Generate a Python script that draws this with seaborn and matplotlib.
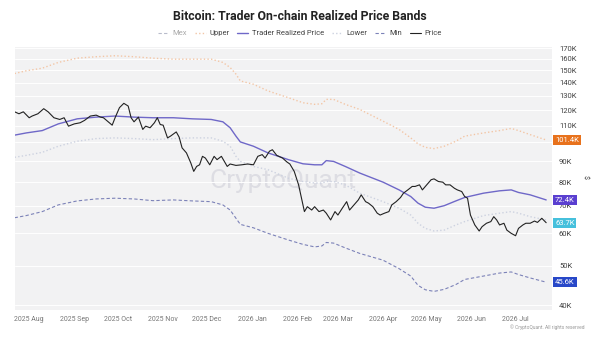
import pandas as pd
import matplotlib.pyplot as plt
import matplotlib.lines as mlines
import matplotlib.ticker as mticker
import seaborn as sns

# Band dates (Trader realized price and its bands share these)
band_dates = pd.to_datetime([
    '2025-07-22', '2025-07-30', '2025-08-10', '2025-08-21', '2025-09-03',
    '2025-09-16', '2025-09-29', '2025-10-12', '2025-10-25', '2025-11-08',
    '2025-11-21', '2025-12-04', '2025-12-12', '2025-12-17', '2025-12-21',
    '2025-12-24', '2026-01-02', '2026-01-12', '2026-01-26', '2026-02-05',
    '2026-02-13', '2026-02-18', '2026-02-21', '2026-02-26', '2026-03-06',
    '2026-03-16', '2026-04-01', '2026-04-12', '2026-04-20', '2026-04-25',
    '2026-04-30', '2026-05-06', '2026-05-13', '2026-05-21', '2026-05-27',
    '2026-06-09', '2026-06-20', '2026-06-28', '2026-07-03', '2026-07-11',
    '2026-07-22'])

# values in thousands of USD
trp_k = [104.2, 105.5, 106.9, 111.0, 114.2, 115.3, 116.0, 115.3, 114.9, 114.9,
         114.2, 113.8, 112.3, 108.6, 103.6, 100.3, 97.9, 94.3, 90.8, 88.7,
         88.2, 88.2, 90.3, 89.9, 87.4, 84.2, 80.0, 76.6, 73.8, 71.1,
         69.5, 69.1, 70.1, 72.0, 73.4, 75.2, 76.2, 76.6, 75.5, 74.5, 72.4]
upper_k = [147.3, 149.6, 151.8, 156.8, 160.6, 161.9, 162.8, 161.9, 160.6, 159.7,
           159.7, 159.7, 156.8, 152.4, 146.8, 141.3, 138.7, 133.6, 128.6, 125.0,
           123.9, 124.3, 127.4, 127.4, 123.9, 120.4, 112.7, 107.6, 102.6, 99.2,
           97.3, 96.6, 97.9, 100.7, 103.6, 105.5, 106.9, 108.2, 106.9, 104.5, 101.4]
lower_k = [92.0, 93.0, 94.6, 97.9, 100.7, 102.2, 102.6, 102.2, 101.6, 102.2,
           102.6, 102.6, 100.7, 97.9, 92.5, 89.9, 87.4, 85.8, 81.8, 80.3,
           79.6, 79.6, 80.3, 80.3, 78.8, 75.2, 71.7, 69.1, 66.5, 63.5,
           61.7, 60.8, 61.1, 62.9, 64.1, 66.3, 67.2, 67.8, 67.2, 65.9, 64.7]
min_k = [65.5, 66.3, 67.8, 70.4, 72.0, 72.8, 73.1, 72.8, 72.1, 72.4,
         72.0, 71.7, 70.4, 68.4, 65.3, 63.1, 61.9, 60.0, 57.8, 56.4,
         55.6, 55.9, 57.0, 56.8, 55.3, 53.6, 51.6, 49.2, 47.2, 44.8,
         43.7, 43.3, 43.8, 45.0, 46.3, 47.2, 48.0, 48.3, 47.6, 46.7, 45.6]

# Price: days since 2025-07-22 and value (K USD)
price_start = '2025-07-22'
price_days = [0, 3, 6, 10, 12, 16, 20, 23, 27, 31,
              34, 37, 41, 45, 48, 52, 56, 59, 61, 65,
              67, 69, 72, 75, 78, 80, 82, 85, 88, 90,
              93, 96, 98, 100, 102, 105, 107, 111, 113, 115,
              118, 121, 123, 125, 127, 129, 131, 134, 137, 139,
              142, 146, 148, 152, 156, 160, 164, 167, 170, 172,
              175, 177, 180, 184, 187, 189, 192, 195, 197, 199,
              201, 204, 206, 209, 212, 214, 217, 220, 222, 225,
              228, 230, 233, 236, 238, 241, 243, 246, 249, 251,
              254, 257, 259, 262, 265, 267, 270, 273, 275, 278,
              280, 283, 286, 288, 291, 294, 296, 299, 302, 304,
              307, 309, 311, 313, 316, 319, 321, 324, 327, 329,
              331, 333, 336, 338, 341, 344, 346, 349, 351, 354,
              357, 359, 362, 365]
price_k = [118.8, 117.5, 118.8, 114.9, 116.0, 117.5, 120.9, 118.8, 114.9, 113.8,
           114.9, 109.6, 111.0, 111.7, 113.2, 116.0, 116.6, 115.3, 114.9, 111.7,
           110.2, 114.9, 121.6, 124.6, 122.7, 114.9, 112.3, 115.3, 107.6, 109.6,
           108.6, 111.7, 114.9, 110.6, 110.2, 102.6, 103.6, 106.1, 103.0, 97.0,
           94.3, 89.1, 85.0, 87.4, 88.2, 92.5, 91.6, 88.2, 92.5, 90.8,
           92.5, 87.4, 88.6, 87.9, 88.2, 88.6, 88.2, 92.5, 93.4, 91.6,
           95.2, 96.0, 93.0, 91.6, 89.6, 88.6, 85.0, 78.8, 73.1, 67.8,
           69.7, 68.4, 69.7, 67.8, 68.4, 67.2, 64.7, 67.8, 66.5, 69.1,
           71.7, 68.4, 70.4, 72.4, 74.5, 71.7, 71.1, 69.7, 67.2, 66.5,
           67.2, 67.8, 70.4, 71.7, 73.4, 75.2, 76.6, 78.1, 78.1, 78.8,
           76.6, 78.8, 81.1, 81.5, 80.3, 80.0, 78.8, 78.8, 77.3, 76.6,
           75.9, 73.8, 73.1, 66.5, 62.9, 60.8, 62.3, 63.5, 64.1, 65.9,
           64.7, 62.9, 63.5, 61.1, 60.0, 59.2, 61.7, 62.9, 63.5, 63.5,
           64.3, 63.8, 65.3, 63.7]

y_ticks_k = [40, 50, 60, 70, 80, 90, 100, 110, 120, 130, 140, 150, 160, 170]
hidden_ticks_k = [100]  # sits under the 101.4K tag
month_ticks = pd.date_range('2025-08-01', '2026-07-01', freq='MS')

sns.set_style('white')
plt.rcParams['font.family'] = ['Roboto', 'DejaVu Sans']

price_dates = pd.Timestamp(price_start) + pd.to_timedelta(price_days, unit='D')
price = pd.DataFrame({'date': price_dates, 'value': [v * 1000 for v in price_k]})
bands = pd.DataFrame({'date': band_dates,
                      'trp': [v * 1000 for v in trp_k],
                      'upper': [v * 1000 for v in upper_k],
                      'lower': [v * 1000 for v in lower_k],
                      'min': [v * 1000 for v in min_k]})

c_upper = '#f2c6a6'
c_trp = '#6f68c8'
c_lower = '#cdd2e0'
c_min = '#7c82b8'
c_price = '#222222'

fig = plt.figure(figsize=(6, 3.37), dpi=100)
ax = fig.add_axes([14.6 / 600, 1 - 310 / 337, (552 - 14.6) / 600, (310 - 47) / 337])
ax.set_facecolor('#f2f2f3')

ax.text(0.5, 0.49, 'CryptoQuant', transform=ax.transAxes, ha='center', va='center',
        fontsize=19, color='#dddde3', zorder=0.5)

sns.lineplot(data=bands, x='date', y='upper', ax=ax, color=c_upper, lw=1.0,
             linestyle=(0, (1, 1.6)))
sns.lineplot(data=bands, x='date', y='lower', ax=ax, color=c_lower, lw=1.0,
             linestyle=(0, (1, 1.6)))
sns.lineplot(data=bands, x='date', y='min', ax=ax, color=c_min, lw=0.8,
             linestyle=(0, (3, 2)))
sns.lineplot(data=bands, x='date', y='trp', ax=ax, color=c_trp, lw=1.0)
sns.lineplot(data=price, x='date', y='value', ax=ax, color=c_price, lw=0.8)

ax.set_yscale('log')
ax.set_ylim(39000, 171000)
ax.set_xlim(pd.Timestamp('2025-07-22'), pd.Timestamp('2026-07-26'))
ax.yaxis.set_major_locator(mticker.FixedLocator([v * 1000 for v in y_ticks_k]))
ax.yaxis.set_major_formatter(mticker.FixedFormatter(
    ['' if v in hidden_ticks_k else f'{v}K' for v in y_ticks_k]))
ax.yaxis.set_minor_locator(mticker.NullLocator())
ax.yaxis.tick_right()
ax.set_xticks(month_ticks)
ax.set_xticklabels([d.strftime('%Y %b') for d in month_ticks])
ax.tick_params(axis='y', labelsize=5.5, length=0, pad=5, colors='#444444')
ax.tick_params(axis='x', labelsize=5, length=0, pad=4, colors='#777777')
ax.set_xlabel('')
ax.set_ylabel('')
ax.grid(axis='y', color='white', lw=0.7)
ax.grid(axis='x', visible=False)
for s in ax.spines.values():
    s.set_visible(False)

fig.text(0.975, 1 - 177 / 337, '$', rotation=-90, fontsize=5, color='#444444',
         ha='center', va='center')

# last-value tags on the right axis
tags = [(upper_k[-1], '#e8721c'), (trp_k[-1], '#5a3fd0'),
        (price_k[-1], '#46c0dc'), (min_k[-1], '#2848c8')]
for val, col in tags:
    ax.annotate(f'{val}K', xy=(1, val * 1000), xycoords=ax.get_yaxis_transform(),
                xytext=(2.2, 0), textcoords='offset points', ha='left', va='center',
                fontsize=5.5, color='white', annotation_clip=False, zorder=5,
                bbox=dict(boxstyle='square,pad=0.25', fc=col, ec='none'))

fig.text(0.5, 1 - 17 / 337, 'Bitcoin: Trader On-chain Realized Price Bands',
         ha='center', va='center', fontsize=8.8, fontweight='bold', color='#222222')

handles = [
    mlines.Line2D([], [], color='#b8bccb', lw=0.8, linestyle=(0, (3, 2))),
    mlines.Line2D([], [], color=c_upper, lw=1.0, linestyle=(0, (1, 1.6))),
    mlines.Line2D([], [], color=c_trp, lw=1.0),
    mlines.Line2D([], [], color=c_lower, lw=1.0, linestyle=(0, (1, 1.6))),
    mlines.Line2D([], [], color=c_min, lw=0.8, linestyle=(0, (3, 2))),
    mlines.Line2D([], [], color=c_price, lw=0.8),
]
leg_labels = ['Mex', 'Upper', 'Trader Realized Price', 'Lower', 'Min', 'Price']
leg = fig.legend(handles, leg_labels, loc='center', bbox_to_anchor=(0.5, 1 - 33 / 337),
                 ncol=6, frameon=False, fontsize=5.5, handlelength=1.4,
                 columnspacing=1.0, handletextpad=0.5)
for t in leg.get_texts():
    t.set_color('#444444')
leg.get_texts()[0].set_color('#aaaaaa')

fig.text(0.975, 1 - 327 / 337, '© CryptoQuant. All rights reserved', ha='right',
         va='center', fontsize=3.5, color='#999999')

plt.savefig('out.png', dpi=100)
plt.close()
